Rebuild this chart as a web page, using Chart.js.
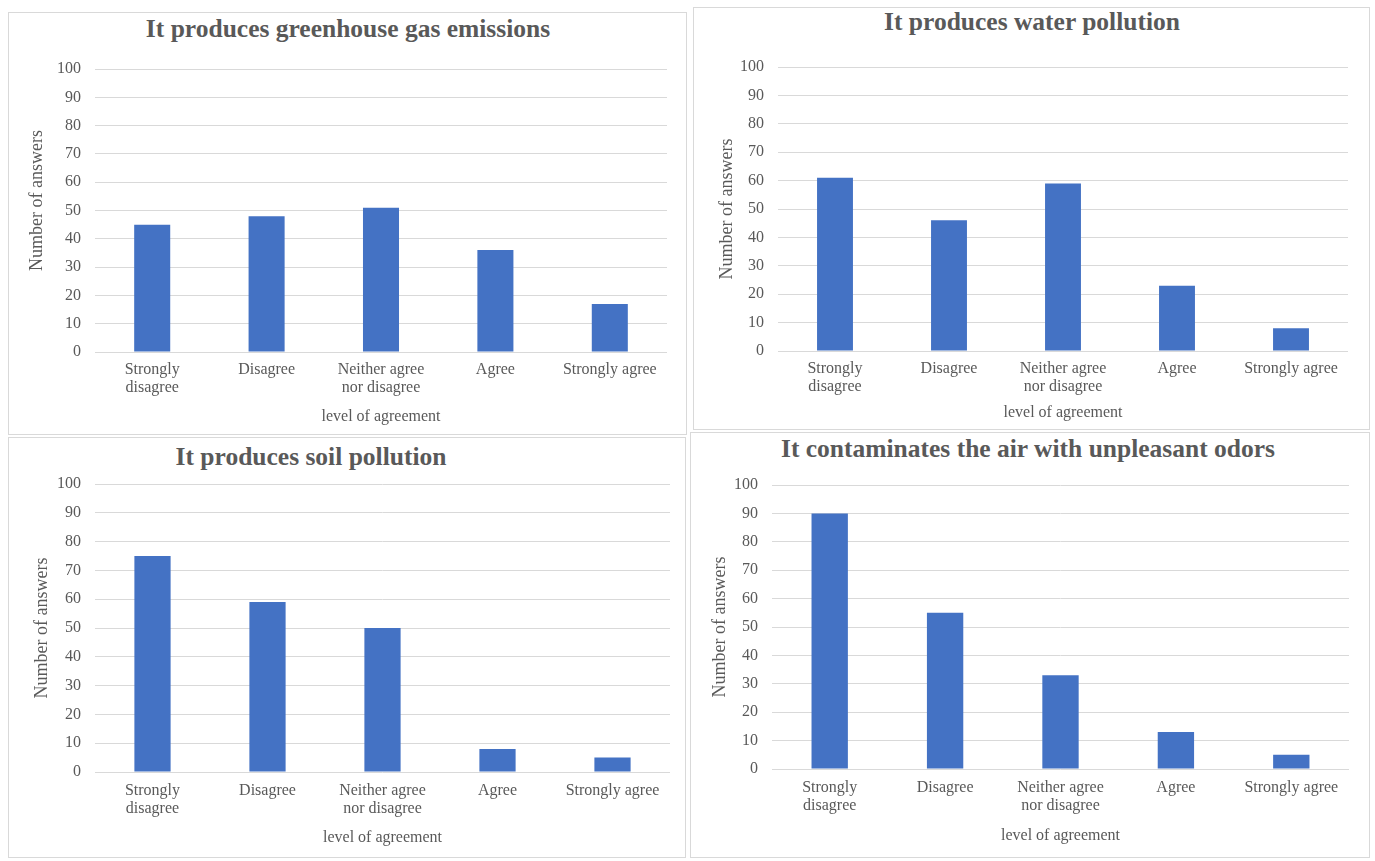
<!DOCTYPE html>
<html>
<head>
<meta charset="utf-8">
<script src="https://cdn.jsdelivr.net/npm/chart.js@4.4.1/dist/chart.umd.min.js"></script>
<style>
  html, body { margin: 0; padding: 0; background: #fff; }
  body { width: 1375px; height: 861px; position: relative; overflow: hidden; font-family: "Liberation Serif", serif; }
  .panel { position: absolute; border: 1px solid #d9d9d9; box-sizing: border-box; background: #fff; }
  .panel canvas { position: absolute; left: 0; top: 0; }
  .ptitle { position: absolute; white-space: nowrap; font-weight: bold; font-size: 25.5px; color: #595959;
            transform: translate(-50%, -50%); line-height: 1; font-family: "Liberation Serif", serif; }
</style>
</head>
<body>
<script>
// Answer categories (x axis tick labels)
const categoryLabels = [["Strongly", "disagree"], "Disagree", ["Neither agree", "nor disagree"], "Agree", "Strongly agree"];

// Number of answers per category for each statement
const greenhouseValues = [45, 48, 51, 36, 17];
const waterValues      = [61, 46, 59, 23, 8];
const soilValues       = [75, 59, 50, 8, 5];
const odorValues       = [90, 55, 33, 13, 5];

// Chart titles
const chartTitles = [
  "It produces greenhouse gas emissions",
  "It produces water pollution",
  "It produces soil pollution",
  "It contaminates the air with unpleasant odors"
];

// Axis titles and value-axis ticks
const xAxisTitle = "level of agreement";
const yAxisTitle = "Number of answers";
const yTickMin = 0;
const yTickMax = 100;
const yTickStep = 10;

const seriesList = [greenhouseValues, waterValues, soilValues, odorValues];

// Page layout of the four panels: frame box, plot area, title centre, axis-title positions
const layouts = [
  { box: [8, 12, 687, 435],     area: [95, 69, 667, 352],    titleAt: [348, 29],   yTitleX: 37,  yTitleDy: -10, xTitleY: 417, xLabelY: 370 },
  { box: [693, 7, 1370, 430],   area: [778, 67, 1348, 351],  titleAt: [1032, 22],  yTitleX: 727, yTitleDy: 0,   xTitleY: 413, xLabelY: 369 },
  { box: [8, 437, 686, 858],    area: [95, 484, 670, 772],   titleAt: [311, 457],  yTitleX: 42,  yTitleDy: 0,   xTitleY: 838, xLabelY: 791 },
  { box: [690, 432, 1370, 858], area: [772, 485, 1349, 769], titleAt: [1028, 449], yTitleX: 720, yTitleDy: 0,   xTitleY: 836, xLabelY: 788 }
];

const TEXT = "#595959";
const GRID = "#d9d9d9";
const BAR = "#4472C4";
const FONT_FAMILY = "'Liberation Serif', serif";
const LABEL_SIZE = 16;
const YTITLE_SIZE = 18;
const TICK_LH = 1.1;
const TITLE_LH = 1.2;

// Moves the value-axis title along the axis by options.dy pixels
const axisTitleShift = {
  id: "axisTitleShift",
  beforeDraw(chart, args, opts) {
    const scale = chart.scales.y;
    if (!scale || scale._shiftWrapped) return;
    const drawTitle = scale.drawTitle.bind(scale);
    scale.drawTitle = function () {
      const c = this.ctx;
      c.save();
      c.translate(0, opts.dy || 0);
      drawTitle();
      c.restore();
    };
    scale._shiftWrapped = true;
  }
};

layouts.forEach((L, i) => {
  const w = L.box[2] - L.box[0];
  const h = L.box[3] - L.box[1];
  const panel = document.createElement("div");
  panel.className = "panel";
  panel.style.left = L.box[0] + "px";
  panel.style.top = L.box[1] + "px";
  panel.style.width = w + "px";
  panel.style.height = h + "px";
  document.body.appendChild(panel);

  const ox = L.box[0] + 1, oy = L.box[1] + 1;
  const cw = w - 2, ch = h - 2;

  const title = document.createElement("div");
  title.className = "ptitle";
  title.textContent = chartTitles[i];
  title.style.left = (L.titleAt[0] - ox) + "px";
  title.style.top = (L.titleAt[1] - oy) + "px";
  panel.appendChild(title);

  const canvas = document.createElement("canvas");
  canvas.width = cw;
  canvas.height = ch;
  canvas.style.width = cw + "px";
  canvas.style.height = ch + "px";
  panel.appendChild(canvas);

  const leftW = L.area[0] - ox;
  const rightPad = cw - (L.area[2] - ox);
  const topPad = L.area[1] - oy;
  const bottomH = ch - (L.area[3] - oy);
  const xTitleLineH = LABEL_SIZE * TITLE_LH;
  const yTitleLineH = YTITLE_SIZE * TITLE_LH;
  const tickLineH = LABEL_SIZE * TICK_LH;

  new Chart(canvas, {
    type: "bar",
    data: {
      labels: categoryLabels,
      datasets: [{
        data: seriesList[i],
        backgroundColor: BAR,
        borderWidth: 0,
        barPercentage: 0.315,
        categoryPercentage: 1.0
      }]
    },
    plugins: [axisTitleShift],
    options: {
      responsive: false,
      animation: false,
      devicePixelRatio: 1,
      layout: { padding: { top: topPad, right: rightPad, left: 0, bottom: 0 } },
      plugins: {
        legend: { display: false },
        tooltip: { enabled: false },
        title: { display: false },
        axisTitleShift: { dy: L.yTitleDy }
      },
      scales: {
        x: {
          grid: { display: false, drawTicks: false },
          border: { display: false },
          ticks: {
            color: TEXT,
            font: { family: FONT_FAMILY, size: LABEL_SIZE, lineHeight: TICK_LH },
            padding: (L.xLabelY - L.area[3]) - tickLineH / 2,
            maxRotation: 0,
            autoSkip: false
          },
          title: {
            display: true,
            text: xAxisTitle,
            color: TEXT,
            font: { family: FONT_FAMILY, size: LABEL_SIZE, lineHeight: TITLE_LH },
            padding: { top: 0, bottom: ch - (L.xTitleY - oy) - xTitleLineH / 2 }
          },
          afterFit: (scale) => { scale.height = bottomH; }
        },
        y: {
          min: yTickMin,
          max: yTickMax,
          grid: { color: GRID, lineWidth: 1, drawTicks: false },
          border: { display: false },
          ticks: {
            stepSize: yTickStep,
            color: TEXT,
            font: { family: FONT_FAMILY, size: LABEL_SIZE },
            padding: 14
          },
          title: {
            display: true,
            text: yAxisTitle,
            color: TEXT,
            font: { family: FONT_FAMILY, size: YTITLE_SIZE, lineHeight: TITLE_LH },
            padding: { top: (L.yTitleX - ox) - yTitleLineH / 2, bottom: 0 }
          },
          afterFit: (scale) => { scale.width = leftW; }
        }
      }
    }
  });
});
</script>
</body>
</html>
